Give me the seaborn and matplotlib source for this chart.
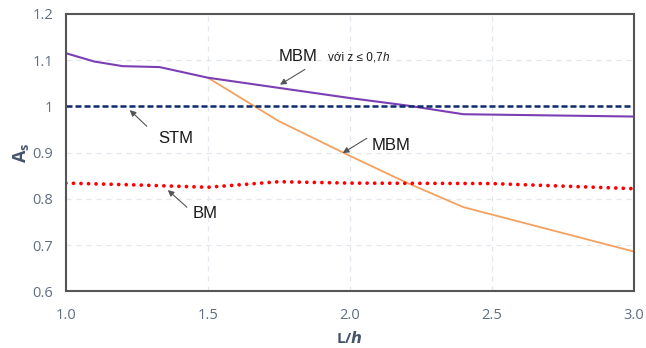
import numpy as np
import pandas as pd
import matplotlib
matplotlib.use('Agg')
import matplotlib.pyplot as plt
import seaborn as sns

# Data
lh_mbm07 = [1.0, 1.1, 1.2, 1.33, 1.5, 2.0, 2.2, 2.4, 3.0]
as_mbm07 = [1.115, 1.097, 1.087, 1.085, 1.062, 1.018, 1.002, 0.983, 0.978]

lh_mbm = [1.5, 1.75, 2.0, 2.2, 2.4, 3.0]
as_mbm = [1.062, 0.968, 0.893, 0.835, 0.782, 0.686]

lh_bm = [1.0, 1.25, 1.5, 1.75, 2.0, 2.5, 3.0]
as_bm = [0.834, 0.830, 0.825, 0.837, 0.834, 0.833, 0.822]

lh_stm = [1.0, 3.0]
as_stm = [1.0, 1.0]

x_ticks = [1.0, 1.5, 2.0, 2.5, 3.0]
y_ticks = [0.6, 0.7, 0.8, 0.9, 1.0, 1.1, 1.2]
y_labels = ['0.6', '0.7', '0.8', '0.9', '1', '1.1', '1.2']

sns.set_style('white')
plt.rcParams['font.family'] = ['Open Sans', 'DejaVu Sans']
plt.rcParams['mathtext.fontset'] = 'custom'
plt.rcParams['mathtext.bf'] = 'Open Sans:bold'
plt.rcParams['mathtext.it'] = 'Open Sans:italic'

fig, ax = plt.subplots(figsize=(6.46, 3.48), dpi=100)
fig.subplots_adjust(left=0.102, right=0.981, top=0.96, bottom=0.163)

# Gridlines
for y in y_ticks[1:-1]:
    ax.axhline(y, color='#e2e7ee', lw=0.9, ls=(0, (4, 4)), zorder=0)
for x in x_ticks[1:-1]:
    ax.axvline(x, color='#e2e7ee', lw=0.9, ls=(0, (4, 4)), zorder=0)

sns.lineplot(x=lh_mbm, y=as_mbm, ax=ax, color='#f4a160', lw=1.3)
sns.lineplot(x=lh_mbm07, y=as_mbm07, ax=ax, color='#7b3fb5', lw=1.5)
sns.lineplot(x=lh_stm, y=as_stm, ax=ax, color='#0e2a6b', lw=1.8,
             linestyle=(0, (2.4, 1.2)))
sns.lineplot(x=lh_bm, y=as_bm, ax=ax, color='#ff0000', lw=2.7,
             linestyle=(0, (0.01, 2.0)))
ax.lines[-1].set_dash_capstyle('round')

ax.set_xlim(1.0, 3.0)
ax.set_ylim(0.6, 1.2)
ax.set_xticks(x_ticks)
ax.set_xticklabels([f'{v:.1f}' for v in x_ticks])
ax.set_yticks(y_ticks)
ax.set_yticklabels(y_labels)
ax.tick_params(axis='both', length=0, labelsize=10.5, colors='#5f6e80', pad=9)
ax.tick_params(axis='x', pad=12)

for s in ax.spines.values():
    s.set_color('#555555')
    s.set_linewidth(1.5)

ax.set_xlabel(r'L/$\boldsymbol{h}$', fontsize=11, fontweight='bold',
              color='#44546a', labelpad=5)
ax.set_ylabel(r'$\mathbf{A_s}$', fontsize=13, color='#44546a', labelpad=1)

arrow = dict(arrowstyle='-|>', color='#555555', lw=0.8,
             mutation_scale=9, shrinkA=0, shrinkB=0)
lab = dict(fontsize=12, family='Liberation Sans', color='#1a1a1a',
           va='baseline')

ax.annotate('', xy=(1.754, 1.047), xytext=(1.842, 1.080), arrowprops=arrow)
ax.text(1.75, 1.098, 'MBM', **lab)
t = ax.text(1.923, 1.099, 'với z ≤ 0,7', fontsize=8.5,
            family='Liberation Sans', color='#1a1a1a', va='baseline')
ax.annotate('h', xy=(1, 0), xycoords=t, xytext=(0, 0),
            textcoords='offset points', fontsize=8.5,
            family='Liberation Sans', style='italic', color='#1a1a1a',
            va='bottom')

ax.annotate('', xy=(1.225, 0.992), xytext=(1.285, 0.957), arrowprops=arrow)
ax.text(1.324, 0.921, 'STM', **lab)

ax.annotate('', xy=(1.975, 0.899), xytext=(2.06, 0.931), arrowprops=arrow)
ax.text(2.077, 0.905, 'MBM', **lab)

ax.annotate('', xy=(1.359, 0.819), xytext=(1.426, 0.782), arrowprops=arrow)
ax.text(1.447, 0.758, 'BM', **lab)

fig.savefig('out.png', dpi=100)
